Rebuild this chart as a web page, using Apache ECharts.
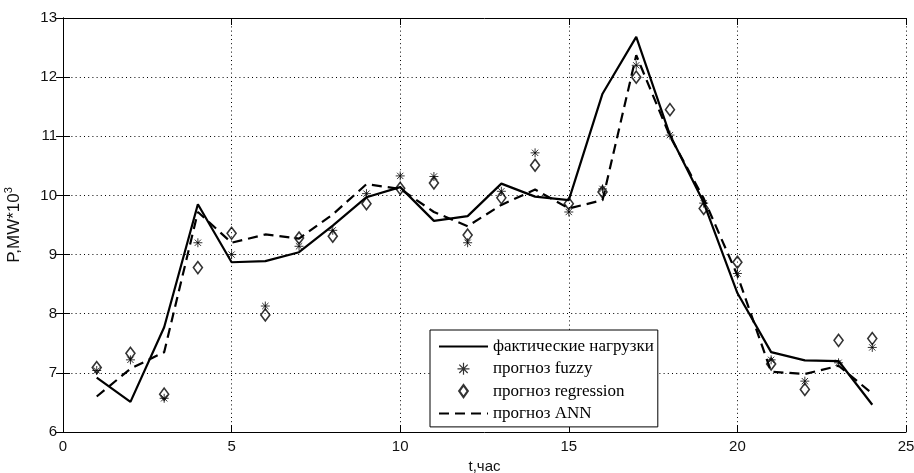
<!DOCTYPE html>
<html>
<head>
<meta charset="utf-8">
<script src="https://cdn.jsdelivr.net/npm/echarts@6/dist/echarts.min.js"></script>
<style>
html, body { margin: 0; padding: 0; background: #fff; }
#chart { width: 914px; height: 473px; }
</style>
</head>
<body>
<div id="chart"></div>
<script>
// часы суток
var hours = [1, 2, 3, 4, 5, 6, 7, 8, 9, 10, 11, 12, 13, 14, 15, 16, 17, 18, 19, 20, 21, 22, 23, 24];
// фактические нагрузки
var actual = [6.92, 6.51, 7.77, 9.85, 8.87, 8.89, 9.04, 9.49, 9.97, 10.14, 9.57, 9.65, 10.2, 9.98, 9.92, 11.72, 12.68, 11.02, 9.88, 8.35, 7.35, 7.21, 7.2, 6.46];
// прогноз fuzzy
var fuzzy = [7.04, 7.22, 6.57, 9.2, 9.0, 8.13, 9.14, 9.41, 10.03, 10.33, 10.32, 9.2, 10.07, 10.72, 9.72, 10.11, 12.2, 11.02, 9.87, 8.68, 7.22, 6.86, 7.17, 7.43];
// прогноз regression
var regression = [7.09, 7.33, 6.64, 8.78, 9.36, 7.98, 9.28, 9.31, 9.86, 10.12, 10.21, 9.33, 9.96, 10.51, 9.86, 10.06, 12.0, 11.45, 9.78, 8.87, 7.15, 6.72, 7.55, 7.58];
// прогноз ANN
var ann = [6.6, 7.07, 7.35, 9.72, 9.2, 9.34, 9.27, 9.68, 10.19, 10.11, 9.72, 9.48, 9.84, 10.1, 9.78, 9.92, 12.37, 11.0, 9.95, 8.65, 7.02, 6.98, 7.12, 6.65];

var xTicks = [0, 5, 10, 15, 20, 25];
var yTicks = [6, 7, 8, 9, 10, 11, 12, 13];

var names = ['фактические нагрузки', 'прогноз fuzzy', 'прогноз regression', 'прогноз ANN'];

function pairs(ys) {
	return hours.map(function (h, i) { return [h, ys[i]]; });
}

var starPath = 'path://M5 0 L5 10 M0 5 L10 5 M1.5 1.5 L8.5 8.5 M8.5 1.5 L1.5 8.5';
var diamondPath = 'path://M5 0 L10 7 L5 14 L0 7 Z';

var dotted = { color: '#000', width: 1, type: [1, 3.2] };
var axisText = { fontFamily: 'Liberation Sans', fontSize: 15, color: '#111' };

var myChart = echarts.init(document.getElementById('chart'));
myChart.setOption({
	animation: false,
	backgroundColor: '#fff',
	grid: { left: 63, right: 8, top: 18, bottom: 41, outerBoundsMode: 'none', containLabel: false },
	legend: {
		orient: 'vertical',
		left: 430, top: 330,
		itemWidth: 49, itemHeight: 12, itemGap: 5.3,
		padding: [8, 4, 5, 8],
		borderColor: '#000', borderWidth: 1, borderRadius: 0,
		backgroundColor: '#fff',
		selectedMode: false,
		textStyle: { fontFamily: 'Liberation Serif', fontSize: 17, color: '#000' },
		data: [
			{ name: names[0], itemStyle: { opacity: 0 } },
			{ name: names[1], itemStyle: { borderWidth: 1.2 } },
			{ name: names[2], itemStyle: { borderWidth: 2.2 } },
			{ name: names[3], itemStyle: { opacity: 0 } }
		]
	},
	xAxis: [
		{
			type: 'value', min: xTicks[0], max: xTicks[xTicks.length - 1], interval: 5,
			name: 't,час', nameLocation: 'middle', nameGap: 25,
			nameTextStyle: axisText,
			axisLine: { lineStyle: { color: '#000', width: 1 } },
			axisTick: { inside: true, length: 7, lineStyle: { color: '#000' } },
			axisLabel: Object.assign({ margin: 7 }, axisText),
			splitLine: { show: true, lineStyle: dotted }
		},
		{
			type: 'value', position: 'top', min: 0, max: 25, interval: 5,
			axisLine: { lineStyle: { color: '#000', width: 1 } },
			axisTick: { inside: true, length: 7, lineStyle: { color: '#000' } },
			axisLabel: { show: false },
			splitLine: { show: false }
		}
	],
	yAxis: [
		{
			type: 'value', min: yTicks[0], max: yTicks[yTicks.length - 1], interval: 1,
			name: 'P,MW*10{sup|3}', nameLocation: 'middle', nameRotate: 90, nameGap: 37,
			nameTextStyle: { fontFamily: 'Liberation Sans', fontSize: 17, color: '#111',
				rich: { sup: { fontFamily: 'Liberation Sans', fontSize: 11, color: '#111', padding: [0, 0, 12, 0] } } },
			axisLine: { show: true, lineStyle: { color: '#000', width: 1 } },
			axisTick: { show: true, inside: true, length: 7, lineStyle: { color: '#000' } },
			axisLabel: Object.assign({ margin: 6 }, axisText),
			splitLine: { show: true, lineStyle: dotted }
		},
		{
			type: 'value', position: 'right', min: 6, max: 13, interval: 1,
			axisLine: { show: true, lineStyle: { color: '#000', width: 1 } },
			axisTick: { show: true, inside: true, length: 7, lineStyle: { color: '#000' } },
			axisLabel: { show: false },
			splitLine: { show: false }
		}
	],
	series: [
		{
			name: names[0], type: 'line', data: pairs(actual),
			symbol: 'none', color: '#000',
			lineStyle: { color: '#000', width: 2.2 },
			emphasis: { disabled: true }, z: 3
		},
		{
			name: names[1], type: 'scatter', data: pairs(fuzzy),
			symbol: starPath, symbolSize: 9,
			itemStyle: { color: 'transparent', borderColor: '#000', borderWidth: 1 },
			emphasis: { disabled: true }, z: 4
		},
		{
			name: names[2], type: 'scatter', data: pairs(regression),
			symbol: diamondPath, symbolSize: [9, 12],
			itemStyle: { color: 'transparent', borderColor: '#000', borderWidth: 1.6 },
			emphasis: { disabled: true }, z: 4
		},
		{
			name: names[3], type: 'line', data: pairs(ann),
			symbol: 'none', color: '#000',
			lineStyle: { color: '#000', width: 2.2, type: [10, 6] },
			emphasis: { disabled: true }, z: 3
		}
	]
});
</script>
</body>
</html>
